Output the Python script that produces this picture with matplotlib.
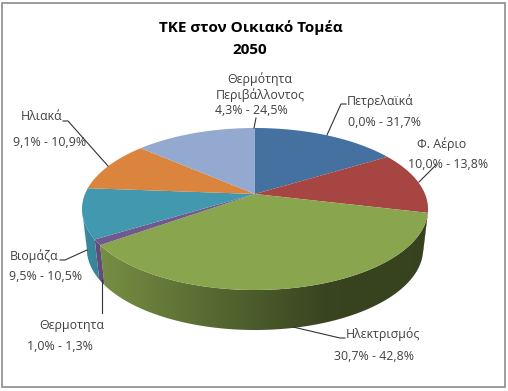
import matplotlib
matplotlib.use("Agg")
import matplotlib.pyplot as plt
import numpy as np
from matplotlib.colors import to_rgb
from matplotlib.patches import Polygon
from matplotlib.transforms import Affine2D

W, H = 508, 391
plt.rcParams['font.family'] = ['Open Sans', 'DejaVu Sans']

categories = ["Πετρελαϊκά", "Φ. Αέριο", "Ηλεκτρισμός", "Θερμοτητα", "Βιομάζα", "Ηλιακά",
              "Θερμότητα\nΠεριβάλλοντος"]
ranges = ["0,0% - 31,7%", "10,0% - 13,8%", "30,7% - 42,8%", "1,0% - 1,3%", "9,5% - 10,5%",
          "9,1% - 10,9%", "4,3% - 24,5%"]
values = [16.3, 12.4, 36.4, 1.1, 10.0, 10.2, 13.6]
colors = ["#44719F", "#A64542", "#89A54E", "#71588F", "#4198AF", "#DB843D", "#93A9CF"]

CX, CY, RX, RY, DEPTH = 255, 209, 173, 81, 40
E = 15 / 81          # perspective shift of the pie centre
BOTTOM_SCALE = 0.972  # far-from-viewer lower rim is slightly narrower

fig = plt.figure(figsize=(W / 100, H / 100), dpi=100, facecolor="white")
ax = fig.add_axes([0, 0, 1, 1])
px = Affine2D().scale(1, -1).translate(0, H)   # reference pixel coordinates
ax.set_xlim(-CX / RX, (W - CX) / RX)
ax.set_ylim((CY - H) / RY, CY / RY)
ax.axis("off")


def project(t):
    """Angle on the flat disc (clockwise from top) to position on the tilted ellipse."""
    u, v = np.sin(t), np.cos(t)
    den = 1 + E * v
    return np.sqrt(1 - E ** 2) * u / den, (v + E) / den


edges = np.concatenate([[0], np.cumsum(values)]) / sum(values) * 2 * np.pi

# gradient for the side wall
gx = np.linspace(-1.02, 1.02, 500)
shade = np.interp(gx, [-1.0, 0.0, 0.42, 1.0], [0.90, 0.55, 0.41, 0.40])
ylo, yhi = -1 - DEPTH / RY - 0.05, 0.2
d = DEPTH / RY

for i, c in enumerate(colors):
    ts = np.linspace(edges[i], edges[i + 1], 200)
    x, y = project(ts)
    front = y <= 0.0
    if front.sum() >= 2:
        xf, yf = x[front], y[front]
        verts = np.r_[np.c_[xf, yf], np.c_[xf[::-1] * BOTTOM_SCALE, yf[::-1] - d]]
        poly = Polygon(verts, closed=True, fc="none", ec="none", transform=ax.transData)
        ax.add_patch(poly)
        img = np.array(to_rgb(c))[None, None, :] * shade[None, :, None]
        im = ax.imshow(img, extent=[gx[0], gx[-1], ylo, yhi], aspect="auto",
                       interpolation="bilinear", zorder=2)
        im.set_clip_path(poly)
    ax.fill(np.r_[0, x], np.r_[E, y], color=c, lw=0, zorder=3)

ax.set_xlim(-CX / RX, (W - CX) / RX)
ax.set_ylim((CY - H) / RY, CY / RY)

frame = plt.Rectangle((2, 2.5), 502.5, 384.5, fill=False, ec="#8C8C8C", lw=1.2,
                      transform=px, zorder=1)
ax.add_patch(frame)

fig.text(251, 28, "ΤΚΕ στον Οικιακό Τομέα", transform=px, ha="center", va="center",
         fontsize=11, fontweight="bold", color="black")
fig.text(250, 50, "2050", transform=px, ha="center", va="center",
         fontsize=11, fontweight="bold", color="black")

name_pos = [(380, 101), (442, 144), (383, 334), (72, 325), (34, 256), (42, 116), (260, 87)]
range_pos = [(385, 123), (448, 164), (374, 357), (60, 346), (46, 277), (50, 142), (251, 111)]
for name, rng, np_, rp in zip(categories, ranges, name_pos, range_pos):
    fig.text(np_[0], np_[1], name, transform=px, ha="center", va="center",
             fontsize=8.9, color="#404040", linespacing=1.25)
    fig.text(rp[0], rp[1], rng, transform=px, ha="center", va="center",
             fontsize=8.9, color="#404040")

leaders = [[(327, 135), (341, 104), (346, 104)],
           [(419, 182), (436, 165)],
           [(293, 327), (340, 338), (345, 338)],
           [(102, 280), (102, 313)],
           [(87, 250), (65, 260), (60, 260)],
           [(108, 166), (68, 121), (63, 121)],
           [(254, 128), (256, 118)]]
for pts in leaders:
    xs, ys = zip(*pts)
    ax.plot(xs, ys, color="#333333", lw=0.8, transform=px, zorder=5, clip_on=False)

fig.savefig("out.png", dpi=100)
